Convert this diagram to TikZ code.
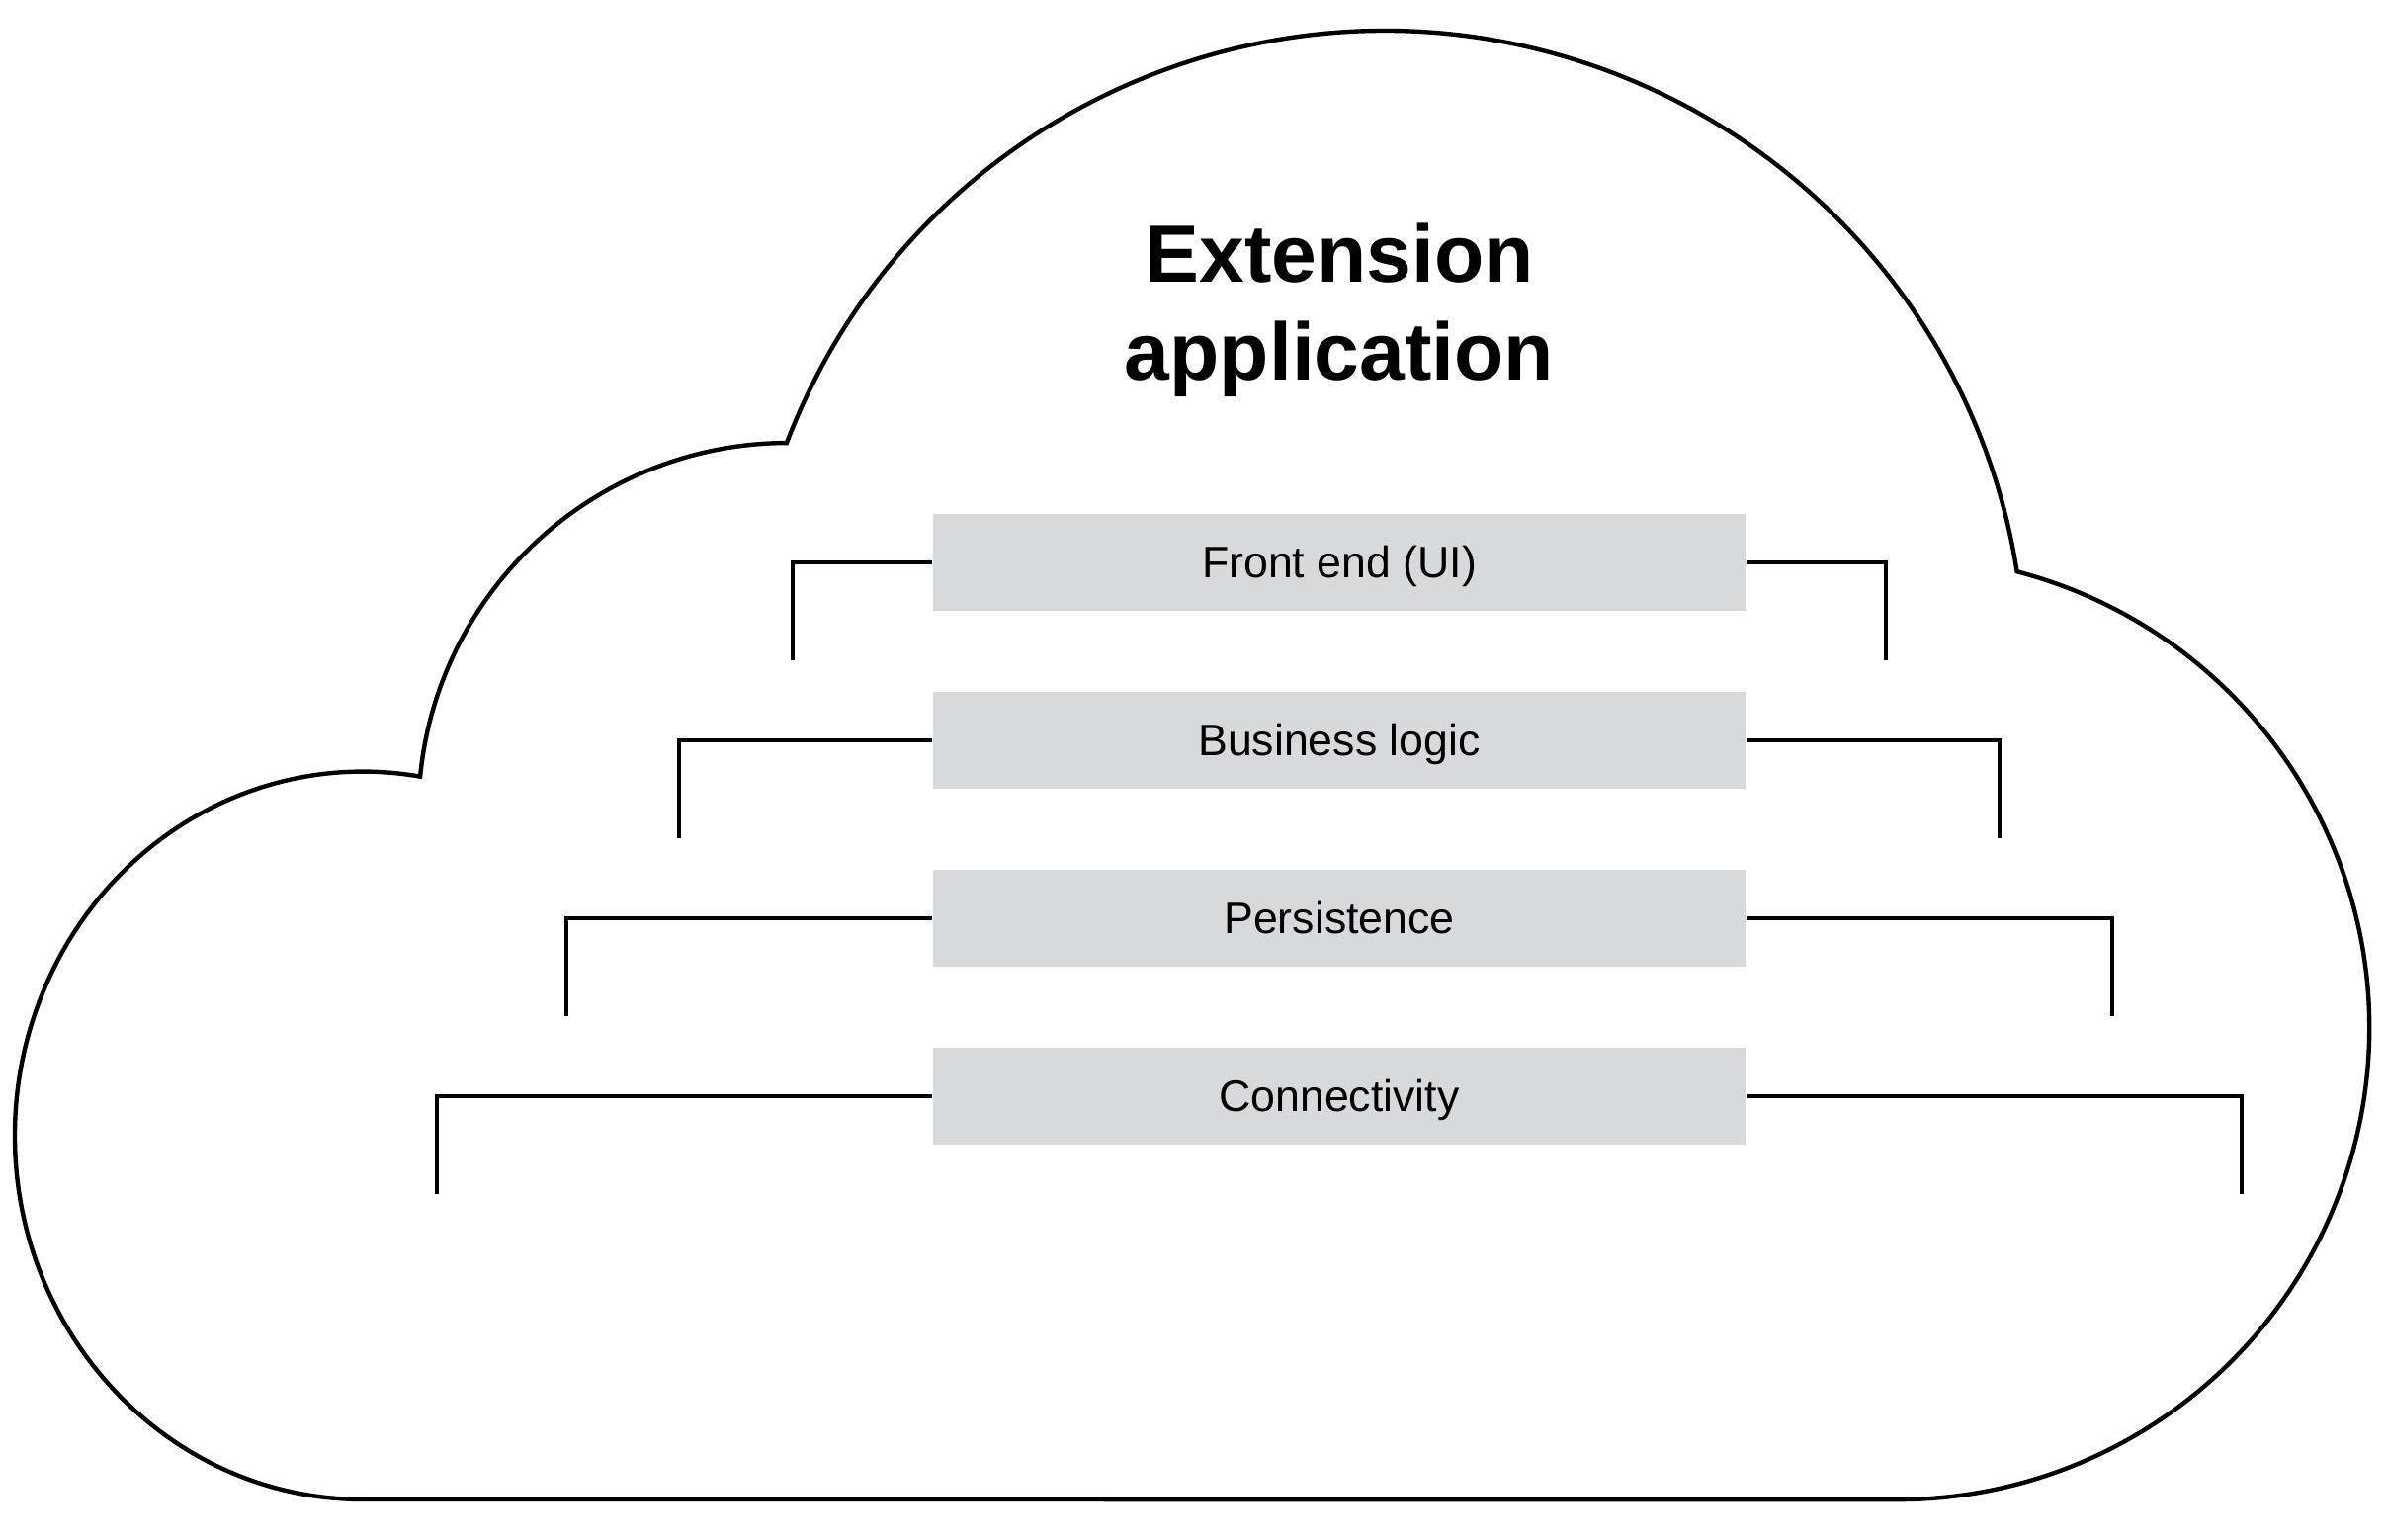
\documentclass[tikz,border=0pt]{standalone}
\usepackage{fontspec}
\setmainfont{Liberation Sans}
\definecolor{boxgray}{RGB}{216,217,219}
\begin{document}
\begin{tikzpicture}[x=0.01cm,y=0.01cm,
  cloudline/.style={line width=1.25pt, line join=miter},
  layerbox/.style={fill=boxgray, draw=none, minimum width=8.22cm, minimum height=0.98cm, inner sep=0pt,
    font=\fontsize{12.7}{15}\selectfont, text height=9.1pt, text depth=0pt},
  bracket/.style={line width=0.9pt},
  titletext/.style={font=\bfseries\fontsize{23.4}{28.2}\selectfont, align=center, anchor=base, inner sep=0pt}]
\useasboundingbox (0,0) rectangle (2414,1558);
% cloud outline
\draw[cloudline] (367,41)
  arc[start angle=270, end angle=80.5, x radius=352, y radius=368.2]
  arc[start angle=174.41, end angle=90.21, radius=374]
  arc[start angle=159.14, end angle=8.92, radius=647.5]
  arc[start angle=75.35, end angle=-90, radius=477.2]
  -- cycle;
% title
\node[titletext] (title) at (1355,1173) {Extension\\application};
% layers
\node[layerbox] (fe) at (1355,989) {Front end (UI)};
\node[layerbox] (bl) at (1355,809) {Business logic};
\node[layerbox] (ps) at (1355,629) {Persistence};
\node[layerbox] (cn) at (1355,449) {Connectivity};
% bracket ends
\coordinate (feL) at (802,890);  \coordinate (feR) at (1908,890);
\coordinate (blL) at (687,710);  \coordinate (blR) at (2023,710);
\coordinate (psL) at (573,530);  \coordinate (psR) at (2137,530);
\coordinate (cnL) at (442,350);  \coordinate (cnR) at (2268,350);
\draw[bracket] (fe.west) -| (feL);
\draw[bracket] (fe.east) -| (feR);
\draw[bracket] (bl.west) -| (blL);
\draw[bracket] (bl.east) -| (blR);
\draw[bracket] (ps.west) -| (psL);
\draw[bracket] (ps.east) -| (psR);
\draw[bracket] (cn.west) -| (cnL);
\draw[bracket] (cn.east) -| (cnR);
\end{tikzpicture}
\end{document}
